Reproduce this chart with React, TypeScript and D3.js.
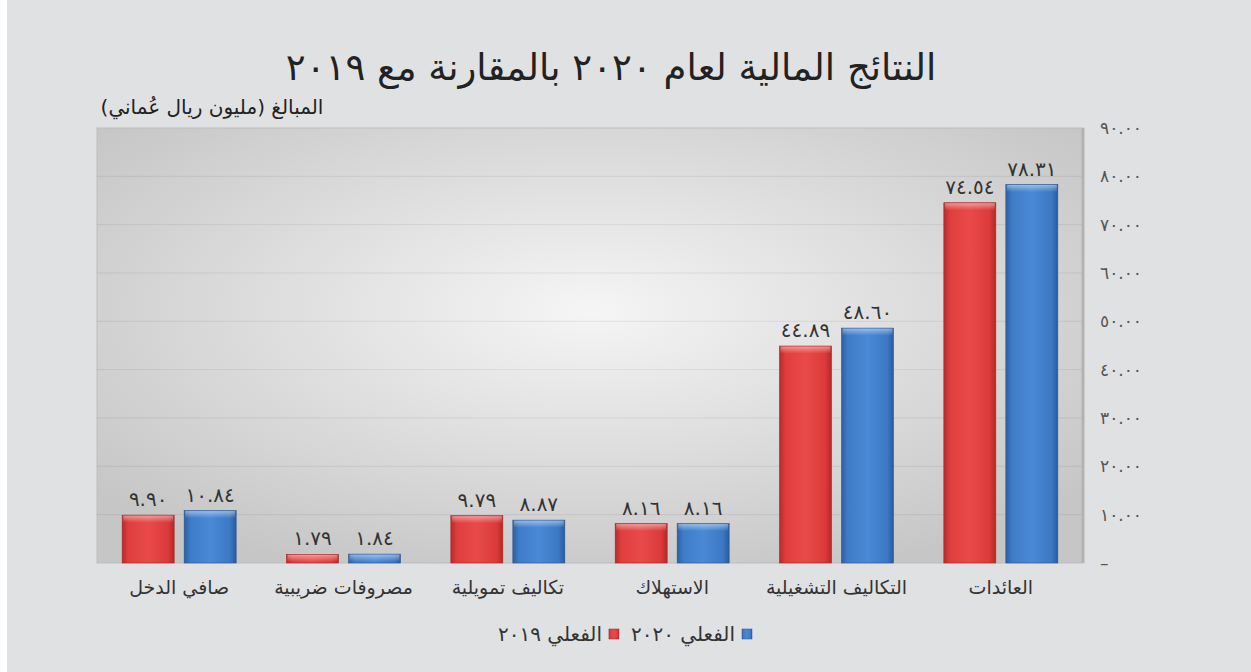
import React, { useEffect, useRef } from 'react';
import * as d3 from 'd3';

const categories = ['العائدات', 'التكاليف التشغيلية', 'الاستهلاك', 'تكاليف تمويلية', 'مصروفات ضريبية', 'صافي الدخل'];
const actual2019 = [74.54, 44.89, 8.16, 9.79, 1.79, 9.9];
const actual2020 = [78.31, 48.6, 8.16, 8.87, 1.84, 10.84];
const seriesKeys = ['2019', '2020'];
const seriesNames = ['الفعلي ٢٠١٩', 'الفعلي ٢٠٢٠'];
const yTicks = [0, 10, 20, 30, 40, 50, 60, 70, 80, 90];

const title = 'النتائج المالية لعام ٢٠٢٠ بالمقارنة مع ٢٠١٩';
const yTitle = 'المبالغ (مليون ريال عُماني)';

const FONT = '"DejaVu Sans", sans-serif';

// western digits -> arabic-indic digits
const toArabic = (s: string) => s.replace(/[0-9]/g, (c) => String.fromCharCode(0x0660 + Number(c)));

const App = () => {
  const svgRef = useRef<SVGSVGElement>(null);

  useEffect(() => {
    document.body.style.margin = '0';
    const svg = d3.select(svgRef.current);
    svg.selectAll('*').remove();

    const W = 1251;
    const H = 672;
    const plot = { left: 97, right: 1083, top: 128, bottom: 563 };

    const defs = svg.append('defs');

    const bg = defs.append('radialGradient').attr('id', 'plotBg').attr('cx', '50%').attr('cy', '42%').attr('r', '65%');
    bg.append('stop').attr('offset', '0%').attr('stop-color', '#f5f5f5');
    bg.append('stop').attr('offset', '100%').attr('stop-color', '#c6c6c6');

    const barColors: Record<string, string[]> = {
      '2019': ['#b92a2a', '#e03e3e', '#e84a4a', '#dc3a3a', '#b52828'],
      '2020': ['#2d5f9f', '#3f7cc8', '#4a89d6', '#3c78c4', '#2b5b9a'],
    };
    seriesKeys.forEach((k) => {
      const g = defs.append('linearGradient').attr('id', `bar${k}`).attr('x1', '0%').attr('x2', '100%').attr('y1', '0%').attr('y2', '0%');
      const offs = ['0%', '12%', '50%', '88%', '100%'];
      barColors[k].forEach((c, i) => g.append('stop').attr('offset', offs[i]).attr('stop-color', c));
    });
    const top = defs.append('linearGradient').attr('id', 'barTop').attr('x1', '0').attr('x2', '0').attr('y1', '0').attr('y2', '1');
    top.append('stop').attr('offset', '0%').attr('stop-color', '#fff').attr('stop-opacity', 0.45);
    top.append('stop').attr('offset', '100%').attr('stop-color', '#fff').attr('stop-opacity', 0);

    // card background
    svg.append('rect').attr('x', 0).attr('y', 0).attr('width', W).attr('height', H).attr('fill', '#ffffff');
    svg.append('rect').attr('x', 7).attr('y', 0).attr('width', W - 7).attr('height', H).attr('fill', '#e0e1e3');

    const x = d3.scaleBand().domain(categories).range([plot.right, plot.left]).padding(0);
    const xs = d3.scaleBand().domain(seriesKeys).range([0, x.bandwidth()]).paddingInner(0.161).paddingOuter(0.406);
    const y = d3.scaleLinear().domain([0, 90]).range([plot.bottom, plot.top]);

    // plot area
    svg
      .append('rect')
      .attr('x', plot.left)
      .attr('y', plot.top)
      .attr('width', plot.right - plot.left)
      .attr('height', plot.bottom - plot.top)
      .attr('fill', 'url(#plotBg)')
      .attr('stroke', '#bdbdbd')
      .attr('stroke-width', 1);

    svg
      .append('g')
      .selectAll('line')
      .data(yTicks.slice(1, -1))
      .enter()
      .append('line')
      .attr('x1', plot.left)
      .attr('x2', plot.right)
      .attr('y1', (d) => y(d))
      .attr('y2', (d) => y(d))
      .attr('stroke', 'rgba(0,0,0,0.07)')
      .attr('stroke-width', 1);

    // right axis line
    svg
      .append('line')
      .attr('x1', plot.right)
      .attr('x2', plot.right)
      .attr('y1', plot.top)
      .attr('y2', plot.bottom)
      .attr('stroke', '#b3b3b3')
      .attr('stroke-width', 3);

    // y tick labels
    svg
      .append('g')
      .selectAll('text')
      .data(yTicks)
      .enter()
      .append('text')
      .attr('x', 1100)
      .attr('y', (d) => y(d))
      .attr('dy', '0.35em')
      .attr('font-family', FONT)
      .attr('font-size', 17)
      .attr('fill', '#555')
      .attr('text-anchor', 'start')
      .text((d) => (d === 0 ? '–' : toArabic(d.toFixed(2))));

    // bars
    const rows = categories.map((c, i) => ({ cat: c, vals: [actual2019[i], actual2020[i]] }));
    const groups = svg
      .append('g')
      .selectAll('g')
      .data(rows)
      .enter()
      .append('g')
      .attr('transform', (d) => `translate(${x(d.cat)},0)`);

    const bars = groups
      .selectAll('g')
      .data((d) => d.vals.map((v, j) => ({ key: seriesKeys[j], v })))
      .enter()
      .append('g');

    bars
      .append('rect')
      .attr('x', (d) => xs(d.key)!)
      .attr('y', (d) => y(d.v))
      .attr('width', xs.bandwidth())
      .attr('height', (d) => y(0) - y(d.v))
      .attr('fill', (d) => `url(#bar${d.key})`)
      .attr('stroke', (d) => (d.key === '2019' ? '#a82424' : '#2a5690'))
      .attr('stroke-width', 0.6);

    bars
      .append('rect')
      .attr('x', (d) => xs(d.key)! + 1)
      .attr('y', (d) => y(d.v) + 0.5)
      .attr('width', xs.bandwidth() - 2)
      .attr('height', (d) => Math.min(7, y(0) - y(d.v) - 1))
      .attr('fill', 'url(#barTop)');

    bars
      .append('text')
      .attr('x', (d) => xs(d.key)! + xs.bandwidth() / 2)
      .attr('y', (d) => y(d.v) - 9)
      .attr('text-anchor', 'middle')
      .attr('font-family', FONT)
      .attr('font-size', 20)
      .attr('fill', '#333')
      .text((d) => toArabic(d.v.toFixed(2)));

    // category labels
    svg
      .append('g')
      .selectAll('text')
      .data(categories)
      .enter()
      .append('text')
      .attr('x', (d) => x(d)! + x.bandwidth() / 2)
      .attr('y', 594)
      .attr('text-anchor', 'middle')
      .attr('direction', 'rtl')
      .attr('font-family', FONT)
      .attr('font-size', 19)
      .attr('fill', '#333')
      .text((d) => d);

    // title
    svg
      .append('text')
      .attr('x', 611)
      .attr('y', 80)
      .attr('text-anchor', 'middle')
      .attr('direction', 'rtl')
      .attr('font-family', FONT)
      .attr('font-size', 37)
      .attr('fill', '#222')
      .text(title);

    // axis title
    svg
      .append('text')
      .attr('x', 212)
      .attr('y', 114)
      .attr('text-anchor', 'middle')
      .attr('direction', 'rtl')
      .attr('font-family', FONT)
      .attr('font-size', 20)
      .attr('fill', '#222')
      .text(yTitle);

    // legend, right to left: 2020 then 2019
    const legend = svg.append('g');
    let cursor = 752;
    [1, 0].forEach((j) => {
      const k = seriesKeys[j];
      legend
        .append('rect')
        .attr('x', cursor - 10)
        .attr('y', 629)
        .attr('width', 10)
        .attr('height', 10)
        .attr('fill', `url(#bar${k})`)
        .attr('stroke', k === '2019' ? '#a82424' : '#2a5690')
        .attr('stroke-width', 0.5);
      const t = legend
        .append('text')
        .attr('x', cursor - 17)
        .attr('y', 641)
        .attr('text-anchor', 'end')
        .attr('font-family', FONT)
        .attr('font-size', 20)
        .attr('fill', '#333')
        .text(seriesNames[j]);
      const w = (t.node() as SVGTextElement).getComputedTextLength();
      cursor = cursor - 17 - w - 12;
    });
  }, []);

  return <svg ref={svgRef} width={1251} height={672} style={{ display: 'block' }}></svg>;
};

export default App;
